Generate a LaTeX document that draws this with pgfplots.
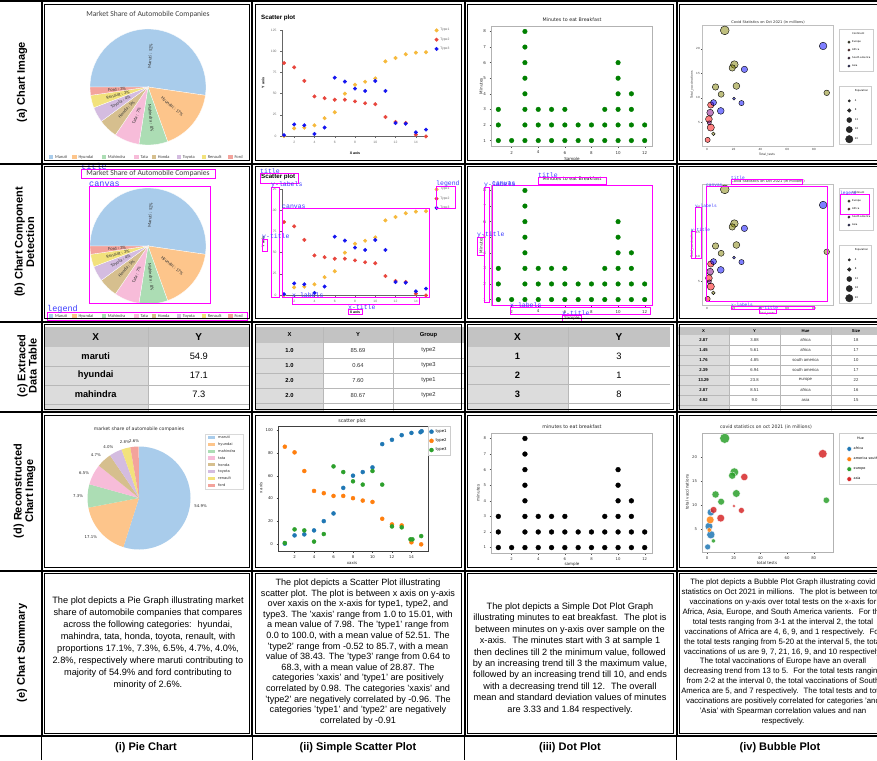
\documentclass[border=0pt]{standalone}
\usepackage{pgfplots}
\pgfplotsset{compat=1.18}
\usepackage{fontspec}
\setmainfont{Liberation Sans}
\newfontfamily\dejavu{DejaVu Sans}
\newfontfamily\carlito{Carlito}
\newfontfamily\mono{Liberation Mono}
\newcommand\fs[1]{\fontsize{#1}{#1}\selectfont}
\newcommand\fsl[2]{\fontsize{#1}{#2}\selectfont}

\definecolor{cMaruti}{HTML}{A9CCEB}
\definecolor{cHyundai}{HTML}{FDC58B}
\definecolor{cMahindra}{HTML}{ACDDB4}
\definecolor{cTata}{HTML}{F7BCD9}
\definecolor{cHonda}{HTML}{D6BF8E}
\definecolor{cToyota}{HTML}{D4BCE0}
\definecolor{cRenault}{HTML}{F2E27C}
\definecolor{cFord}{HTML}{F3A39C}
\definecolor{aT1}{HTML}{F6B93B}
\definecolor{aT2}{HTML}{E8453C}
\definecolor{aT3}{HTML}{1414F0}
\definecolor{dgreen}{HTML}{008000}
\definecolor{mBlue}{HTML}{1F77B4}
\definecolor{mOrange}{HTML}{FF7F0E}
\definecolor{mGreen}{HTML}{2CA02C}
\definecolor{mRed}{HTML}{D62728}
\definecolor{bEu}{HTML}{808000}
\definecolor{bAf}{HTML}{FF0000}
\definecolor{bSa}{HTML}{800080}
\definecolor{bAs}{HTML}{0000FF}
\definecolor{thead}{HTML}{C3C3C3}
\definecolor{tcol}{HTML}{DCDCDC}
\definecolor{tline}{HTML}{B8B8B8}
\definecolor{mag}{HTML}{FF00FF}
\definecolor{lblue}{HTML}{3C3CFF}

\pgfplotsset{bub/.style n args={2}{scatter, only marks, mark=*, forget plot,
  scatter/use mapped color={#1},
  visualization depends on={#2*\thisrow{s} \as \msz},
  scatter/@pre marker code/.append style={/tikz/mark size=\msz}}}

% ---------- pie (a) ----------
\newcommand\pieA[1]{%
\begin{scope}[x=1pt,y=-1pt]
 \node[font=\carlito\fs{7.6}, text=black!75] at (148,{14+#1}) {Market Share of Automobile Companies};
 \foreach \pv/\pc [remember=\pn as \ps (initially 0)] in
  {52.3/cMaruti, 17.2/cHyundai, 8.0/cMahindra, 7.0/cTata, 5.4/cHonda, 4.3/cToyota, 3.5/cRenault, 2.3/cFord}{
   \pgfmathsetmacro\pn{\ps+\pv}
   \pgfmathsetmacro\pa{180-\ps*3.6}
   \pgfmathsetmacro\pb{180-\pn*3.6}
   \fill[\pc, draw=white, line width=0.3pt] (148,{87+#1}) -- ++(\pa:58pt) arc[start angle=\pa, end angle=\pb, radius=58pt] -- cycle;
 }
 \foreach \pv/\pl [remember=\pn as \ps (initially 0)] in
  {52.3/Maruti : 52\%, 17.2/Hyundai : 17\%, 8.0/Mahindra : 8\%, 7.0/Tata : 7\%, 5.4/Honda : 5\%, 4.3/Toyota : 4\%, 3.5/Renault : 3\%, 2.3/Ford : 3\%}{
   \pgfmathsetmacro\pn{\ps+\pv}
   \pgfmathsetmacro\pm{180-(\ps+\pv/2)*3.6}
   \pgfmathsetmacro\pr{cos(\pm)<0 ? \pm+180 : \pm}
   \path (148,{87+#1}) ++(\pm:31pt) node[font=\carlito\fs{4.6}, text=black!80, rotate=\pr, inner sep=0pt] {\pl};
 }
 \foreach \px/\pc/\pl in {51/cMaruti/Maruti, 74.5/cHyundai/Hyundai, 103.8/cMahindra/Mahindra, 136.5/cTata/Tata, 153.8/cHonda/Honda, 178.8/cToyota/Toyota, 203.8/cRenault/Renault, 230.5/cFord/Ford}{
   \fill[\pc] ({\px-2.2},{155.2+#1}) rectangle ({\px+2.2},{158.8+#1});
   \node[anchor=west, font=\carlito\fs{4.4}, text=black!75, inner sep=0pt] at ({\px+3.8},{157+#1}) {\pl};
 }
\end{scope}}

% ---------- scatter (a) ----------
\newcommand\scatA[1]{%
\begin{scope}[x=1pt,y=-1pt]
 \node[anchor=west, font=\bfseries\fs{6.2}, inner sep=0pt] at (261,{18+#1}) {Scatter plot};
 \node[font=\bfseries\fs{3.6}] at (355,{153+#1}) {X axis};
 \node[font=\bfseries\fs{3.6}, rotate=90] at (263,{83+#1}) {Y axis};
\end{scope}
\begin{axis}[at={(282pt,{-136pt-#1pt})}, anchor=south west, scale only axis,
  width=146pt, height=106pt, xmin=0.8, xmax=15.2, ymin=0, ymax=125,
  axis x line*=bottom, axis y line*=left,
  axis line style={black!60, line width=0.5pt, -},
  xtick={2,4,...,14}, ytick={0,25,...,125},
  tick align=outside, major tick length=2pt,
  tick style={black!60, line width=0.4pt},
  ticklabel style={font=\fs{3.3}, text=black!55},
  /pgf/number format/assume math mode=true,
  clip=false,
  legend style={at={(1.045,1.035)}, anchor=north west, draw=none, fill=none,
     font=\fs{3.3}, text=black!60, row sep=1.5pt, inner sep=0pt},
  legend cell align=left]
 \addplot[only marks, mark=*, mark size=1.8pt, color=aT1] coordinates {(1,0)(2,9)(3,9.8)(4,12.6)(5,21)(6,28)(7,49.9)(8,60.5)(9,64)(10,68)(11,88)(12,92)(13,96.4)(14,98.3)(15,98.8)};
 \addlegendentry{Type1}
 \addplot[only marks, mark=*, mark size=1.8pt, color=aT2] coordinates {(1,86)(2,81)(3,65)(4,46.7)(5,44.6)(6,42.8)(7,42.8)(8,40.8)(9,38.6)(10,37.5)(11,22.4)(12,16.5)(13,15.3)(14,1.6)(15,-0.5)};
 \addlegendentry{Type2}
 \addplot[only marks, mark=*, mark size=1.8pt, color=aT3] coordinates {(1,1)(2,13.6)(3,12.6)(4,2.4)(5,10)(6,68.8)(7,64.2)(8,55.9)(9,53.1)(10,64.9)(11,53.1)(12,15.3)(13,14.5)(14,4.3)(15,7.5)};
 \addlegendentry{Type3}
\end{axis}}

% ---------- dot plot (a) ----------
\newcommand\dotA[1]{%
\begin{scope}[x=1pt,y=-1pt]
 \node[font=\dejavu\fs{4.8}, text=black!85] at (572,{20+#1}) {Minutes to eat Breakfast};
 \node[font=\dejavu\fs{4.1}, text=black!85] at (572,{159+#1}) {Sample};
 \node[font=\dejavu\fs{4.1}, text=black!85, rotate=90] at (481,{86+#1}) {Minutes};
\end{scope}
\begin{axis}[at={(491pt,{-146pt-#1pt})}, anchor=south west, scale only axis,
  width=161pt, height=120pt, xmin=0.45,xmax=12.55,ymin=0.65,ymax=8.35,
  axis line style={black!30, line width=0.8pt},
  xtick={2,4,...,12}, ytick={1,...,8}, tick pos=left, tick align=outside,
  major tick length=1.5pt, tick style={black!70,line width=0.3pt},
  ticklabel style={font=\dejavu\fs{4}, text=black!80},
  /pgf/number format/assume math mode=true, clip=false]
 \addplot[only marks, mark=*, mark size=2.3pt, color=dgreen] coordinates {(1,1)(1,2)(1,3)(2,1)(3,1)(3,2)(3,3)(3,4)(3,5)(3,6)(3,7)(3,8)(4,1)(4,2)(4,3)(5,1)(5,2)(5,3)(6,1)(6,2)(6,3)(7,1)(7,2)(8,1)(8,2)(9,1)(9,2)(9,3)(10,1)(10,2)(10,3)(10,4)(10,5)(10,6)(11,1)(11,2)(11,3)(11,4)(12,1)(12,2)};
\end{axis}}

% ---------- bubble (a) ----------
\newcommand\bubA[1]{%
\begin{scope}[x=1pt,y=-1pt]
 \node[font=\dejavu\fs{3.6}, text=black!85] at (768,{22+#1}) {Covid Statistics on Oct 2021 (in millions)};
 \node[font=\dejavu\fs{3}, text=black!85] at (767,{155+#1}) {Total\_tests};
 \node[font=\dejavu\fs{3}, text=black!85, rotate=90] at (692,{85+#1}) {Total\_vaccinations};
\end{scope}
\begin{axis}[at={(702pt,{-146pt-#1pt})}, anchor=south west, scale only axis,
  width=131pt, height=121pt, xmin=-3.7,xmax=94.2,ymin=0.1,ymax=24.9,
  axis line style={black!25, line width=0.7pt},
  xtick={0,20,...,80}, ytick={5,10,15,20}, tick pos=left, tick align=outside,
  major tick length=1.2pt, tick style={black!70,line width=0.3pt},
  ticklabel style={font=\dejavu\fs{2.8}, text=black!80, inner sep=0.8pt},
  /pgf/number format/assume math mode=true, clip=false,
  legend style={at={(1.046,0.967)}, anchor=north west, draw=black!20, fill=white,
     font=\dejavu\fs{2.5}, row sep=0.6pt, inner sep=1.2pt},
  legend cell align=left]
 \addplot[bub={draw=none,fill=bEu,fill opacity=0.5}{0.2}] table[row sep=\\]{x y s\\ 13.29 23.8 22\\ 20.5 16.8 19\\ 18.9 16.1 16\\ 6.4 12.2 16\\ 22 12.4 17\\ 10.6 10.7 15\\ 89.5 11.0 14\\ 4.8 2.6 9\\};
 \addplot[bub={draw=none,fill=bAf,fill opacity=0.5}{0.2}] table[row sep=\\]{x y s\\ 2.87 3.88 18\\ 1.45 5.61 17\\ 2.87 8.51 16\\ 0.5 1.35 13\\};
 \addplot[bub={draw=none,fill=bSa,fill opacity=0.5}{0.2}] table[row sep=\\]{x y s\\ 1.76 4.85 10\\ 2.39 6.94 17\\};
 \addplot[bub={draw=none,fill=bAs,fill opacity=0.5}{0.2}] table[row sep=\\]{x y s\\ 86.8 20.6 19\\ 28 15.8 16\\ 4.92 9.0 15\\ 10.3 7.3 17\\ 20.2 9.8 7\\ 25.8 8.9 13\\};
 \addlegendimage{empty legend}\addlegendentry{Continent}
 \addlegendimage{only marks, mark=*, mark size=1.2pt, draw=none, fill=bEu, fill opacity=0.5}\addlegendentry{Europe}
 \addlegendimage{only marks, mark=*, mark size=1.2pt, draw=none, fill=bAf, fill opacity=0.5}\addlegendentry{Africa}
 \addlegendimage{only marks, mark=*, mark size=1.2pt, draw=none, fill=bSa, fill opacity=0.5}\addlegendentry{South america}
 \addlegendimage{only marks, mark=*, mark size=1.2pt, draw=none, fill=bAs, fill opacity=0.5}\addlegendentry{Asia}
\end{axis}
\begin{axis}[at={(702pt,{-146pt-#1pt})}, anchor=south west, scale only axis,
  width=131pt, height=121pt, xmin=0,xmax=1,ymin=0,ymax=1, hide axis,
  legend style={at={(1.046,0.496)}, anchor=north west, draw=black!20, fill=white,
     font=\dejavu\fs{2.5}, row sep=2.2pt, inner sep=1.5pt},
  legend cell align=left]
 \addlegendimage{empty legend}\addlegendentry{Population}
 \addlegendimage{only marks, mark=*, mark size=1.2pt, black!85}\addlegendentry{4}
 \addlegendimage{only marks, mark=*, mark size=1.8pt, black!85}\addlegendentry{8}
 \addlegendimage{only marks, mark=*, mark size=2.5pt, black!85}\addlegendentry{12}
 \addlegendimage{only marks, mark=*, mark size=3.1pt, black!85}\addlegendentry{16}
 \addlegendimage{only marks, mark=*, mark size=3.7pt, black!85}\addlegendentry{20}
\end{axis}}

\newcommand\magbox[6]{\draw[mag, line width=0.8pt] (#1,#2) rectangle (#3,#4);
 \node[anchor=south west, inner sep=0pt, font=\mono\fs{#6}, text=lblue] at (#1,{#2+1.2}) {#5};}

\begin{document}
\begin{tikzpicture}
\path[use as bounding box, fill=white] (0pt,0pt) rectangle (877pt,-760pt);

% ===== row (a) =====
\pieA{0}
\scatA{0}
\dotA{0}
\bubA{0}
% ===== row (b) =====
\pieA{159}
\scatA{159}
\dotA{159}
\bubA{159}
\begin{scope}[x=1pt,y=-1pt]
 \magbox{81}{169}{215}{178}{title}{8.5}
 \magbox{89}{186}{210}{303}{canvas}{8.5}
 \magbox{47}{312}{247}{320}{legend}{8.5}
 \magbox{260}{173}{298}{183}{title}{6.5}
 \magbox{271}{187}{279}{297}{y-labels}{6.5}
 \magbox{282}{208}{429}{297}{canvas}{6.5}
 \magbox{262}{239}{267}{251}{y-title}{6.5}
 \magbox{292}{297}{419}{304}{x-labels}{6.5}
 \magbox{348}{309}{362}{314}{x-title}{6.5}
 \magbox{436}{186}{455}{208}{legend}{6.5}
 \magbox{538}{177}{606}{184}{title}{6.5}
 \magbox{492}{185}{652}{305}{canvas}{6.5}
 \magbox{484}{187}{489}{302}{y-labels}{6.5}
 \magbox{477}{237}{484}{255}{y-title}{6.5}
 \magbox{510}{307}{650}{314}{x-labels}{6.5}
 \magbox{562}{315}{581}{321}{x-title}{6.5}
 \magbox{731}{179}{802}{184}{title}{4.5}
 \magbox{706}{186}{827}{301}{canvas}{4.5}
 \magbox{695}{207}{701}{258}{y-labels}{4.5}
 \magbox{691}{231}{695}{258}{y-title}{4.5}
 \magbox{840}{194}{869}{214}{legend}{4.5}
 \magbox{731}{306}{814}{309}{x-labels}{4.5}
 \magbox{759}{309}{776}{313}{x-title}{4.5}
\end{scope}

% ===== row (c) tables =====
\begin{scope}[x=1pt,y=-1pt]
 \fill[thead] (43.5,327) rectangle (249.5,347);
 \fill[tcol] (43.5,347) rectangle (148,411);
 \foreach \ty in {366,385,404} \draw[tline,line width=0.5pt] (43.5,\ty) -- (249.5,\ty);
 \draw[tline,line width=0.5pt] (148,327) -- (148,411);
 \node[font=\bfseries\fs{10}] at (95.7,337.5) {X};
 \node[font=\bfseries\fs{10}] at (198.8,337.5) {Y};
 \foreach \ty/\ta/\tb in {356.5/maruti/54.9, 375.5/hyundai/17.1, 394.5/mahindra/7.3}{
   \node[font=\bfseries\fs{9.3}] at (95.7,\ty) {\ta};
   \node[font=\fs{9.3}] at (198.8,\ty) {\tb};}
 \fill[thead] (256,327) rectangle (464,343);
 \fill[tcol] (256,343) rectangle (323,411);
 \foreach \ty in {358,373,388,403} \draw[tline,line width=0.4pt] (256,\ty) -- (464,\ty);
 \draw[tline,line width=0.4pt] (323,327) -- (323,411);
 \draw[tline,line width=0.4pt] (393,327) -- (393,411);
 \node[font=\bfseries\fs{5.8}] at (289.5,335) {X};
 \node[font=\bfseries\fs{5.8}] at (358,335) {Y};
 \node[font=\bfseries\fs{5.8}] at (428.5,335) {Group};
 \foreach \ty/\ta/\tb/\tc in {350.5/1.0/85.69/type2, 365.5/1.0/0.64/type3, 380.5/2.0/7.60/type1, 395.5/2.0/80.67/type2}{
   \node[font=\bfseries\fs{5.8}] at (289.5,\ty) {\ta};
   \node[font=\fs{5.8}, text=black!80] at (358,\ty) {\tb};
   \node[font=\fs{5.8}, text=black!80] at (428.5,\ty) {\tc};}
 \fill[thead] (467,327) rectangle (670,347);
 \fill[tcol] (467,347) rectangle (568,411);
 \foreach \ty in {366,384.5,403} \draw[tline,line width=0.5pt] (467,\ty) -- (670,\ty);
 \draw[tline,line width=0.5pt] (568,327) -- (568,411);
 \node[font=\bfseries\fs{10}] at (517.5,337.5) {X};
 \node[font=\bfseries\fs{10}] at (619,337.5) {Y};
 \foreach \ty/\ta/\tb in {356.5/1/3, 375.5/2/1, 394/3/8}{
   \node[font=\bfseries\fs{9.3}] at (517.5,\ty) {\ta};
   \node[font=\fs{9.3}] at (619,\ty) {\tb};}
 \fill[thead] (678,327) rectangle (880,335);
 \fill[tcol] (678,335) rectangle (729,411);
 \foreach \ty in {345,355,365,375,385,395,405} \draw[tline,line width=0.3pt] (678,\ty) -- (880,\ty);
 \foreach \tx in {729,780,831} \draw[tline,line width=0.3pt] (\tx,327) -- (\tx,411);
 \node[font=\bfseries\fs{4.2}] at (703.5,331) {X};
 \node[font=\bfseries\fs{4.2}] at (754.5,331) {Y};
 \node[font=\bfseries\fs{4.2}] at (805.5,331) {Hue};
 \node[font=\bfseries\fs{4.2}] at (856,331) {Size};
 \foreach \ty/\ta/\tb/\tc/\td in {340/2.87/3.88/africa/18, 350/1.45/5.61/africa/17, 360/1.76/4.85/south america/10, 370/2.39/6.94/south america/17, 380/13.29/23.8/europe/22, 390/2.87/8.51/africa/16, 400/4.92/9.0/asia/15}{
   \node[font=\bfseries\fs{4.2}] at (703.5,\ty) {\ta};
   \node[font=\fs{4.2}, text=black!80] at (754.5,\ty) {\tb};
   \node[font=\fs{4.2}, text=black!80] at (805.5,\ty) {\tc};
   \node[font=\fs{4.2}, text=black!80] at (856,\ty) {\td};}
\end{scope}

% ===== row (d) =====
\begin{scope}[x=1pt,y=-1pt]
 \node[font=\dejavu\fs{4.6}, text=black!85] at (139,429) {market share of automobile companies};
 \foreach \pv/\pc [remember=\pn as \ps (initially 0)] in
  {54.9/cMaruti, 17.1/cHyundai, 7.3/cMahindra, 6.5/cTata, 4.7/cHonda, 4.0/cToyota, 2.8/cRenault, 2.6/cFord}{
   \pgfmathsetmacro\pn{\ps+\pv}
   \pgfmathsetmacro\pa{90-\ps*3.6}
   \pgfmathsetmacro\pb{90-\pn*3.6}
   \fill[\pc] (139,498) -- ++(\pa:51.5pt) arc[start angle=\pa, end angle=\pb, radius=51.5pt] -- cycle;
 }
 \foreach \pv/\pl/\pk [remember=\pn as \ps (initially 0)] in
  {54.9/54.9\%/west, 17.1/17.1\%/north east, 7.3/7.3\%/east, 6.5/6.5\%/east, 4.7/4.7\%/south east, 4.0/4.0\%/south east, 2.8/2.8\%/south, 2.6/2.6\%/south}{
   \pgfmathsetmacro\pn{\ps+\pv}
   \pgfmathsetmacro\pm{90-(\ps+\pv/2)*3.6}
   \path (139,498) ++(\pm:55.5pt) node[font=\dejavu\fs{3.9}, text=black!85, anchor=\pk, inner sep=0.3pt] {\pl};
 }
 \draw[black!15, line width=0.4pt, fill=white] (205,434) rectangle (243,489);
 \foreach \ty/\pc/\pl in {437.5/cMaruti/maruti, 444.3/cHyundai/hyundai, 451.1/cMahindra/mahindra, 457.9/cTata/tata, 464.7/cHonda/honda, 471.5/cToyota/toyota, 478.3/cRenault/renault, 485.1/cFord/ford}{
   \fill[\pc] (208,{\ty-1.6}) rectangle (214.5,{\ty+1.6});
   \node[anchor=west, font=\dejavu\fs{3.6}, text=black!85, inner sep=0pt] at (218,\ty) {\pl};
 }
 \node[font=\dejavu\fs{4.8}, text=black!85] at (352,421.5) {scatter plot};
 \node[font=\dejavu\fs{4}, text=black!85] at (352,563) {xaxis};
 \node[font=\dejavu\fs{4}, text=black!85, rotate=90] at (261,488) {x axis};
 \node[font=\dejavu\fs{4.8}, text=black!85] at (572,427) {minutes to eat breakfast};
 \node[font=\dejavu\fs{4.1}, text=black!85] at (572,564) {sample};
 \node[font=\dejavu\fs{4.1}, text=black!85, rotate=90] at (478,493) {minutes};
 \node[font=\dejavu\fs{4.6}, text=black!85] at (766,427) {covid statistics on oct 2021 (in millions)};
 \node[font=\dejavu\fs{4}, text=black!85] at (767,563) {total tests};
 \node[font=\dejavu\fs{4}, text=black!85, rotate=90] at (687,492) {total vaccinations};
\end{scope}

\begin{axis}[at={(278pt,-551pt)}, anchor=south west, scale only axis,
  width=150pt, height=125pt, xmin=0.3, xmax=15.7, ymin=-6.5, ymax=104,
  axis line style={black!75, line width=0.5pt},
  xtick={2,4,...,14}, ytick={0,20,...,100}, tick pos=left, tick align=outside,
  major tick length=1.5pt, tick style={black!75,line width=0.3pt},
  ticklabel style={font=\dejavu\fs{3.9}, text=black!85},
  /pgf/number format/assume math mode=true, clip=false,
  legend style={at={(1.0,1.0)}, anchor=north west, draw=black!20, fill=white,
     font=\dejavu\fs{3.9}, row sep=0.8pt, inner sep=1.3pt},
  legend cell align=left]
 \addplot[only marks, mark=*, mark size=2pt, color=mBlue] coordinates {(1,0)(2,7.3)(3,8.2)(4,11.7)(5,19.9)(6,26.7)(7,49.3)(8,60.1)(9,63.3)(10,67.4)(11,88)(12,91.8)(13,95.9)(14,97.9)(14.93,98.5)(15.05,99.4)};
 \addlegendentry{type1}
 \addplot[only marks, mark=*, mark size=2pt, color=mOrange] coordinates {(1,85.7)(2,80.7)(3,64.2)(4,46.6)(5,44.6)(6,42.2)(7,42.2)(8,40.2)(9,38.1)(10,36.9)(11,22)(12,17)(13,16.1)(14,1.2)(15,-0.6)};
 \addlegendentry{type2}
 \addplot[only marks, mark=*, mark size=2pt, color=mGreen] coordinates {(1,0.6)(2,12.6)(3,11.7)(4,1.8)(5,8.5)(6,68.3)(7,63.3)(8,55.1)(9,52.2)(10,64.2)(11,52.2)(12,15.2)(13,14.4)(13.9,3.8)(14.1,3.8)(15,6.7)};
 \addlegendentry{type3}
\end{axis}

\begin{axis}[at={(491pt,-553pt)}, anchor=south west, scale only axis,
  width=161pt, height=120pt, xmin=0.45,xmax=12.55,ymin=0.65,ymax=8.35,
  axis line style={black!30, line width=0.8pt},
  xtick={2,4,...,12}, ytick={1,...,8}, tick pos=left, tick align=outside,
  major tick length=1.5pt, tick style={black!70,line width=0.3pt},
  ticklabel style={font=\dejavu\fs{3.8}, text=black!80},
  /pgf/number format/assume math mode=true, clip=false]
 \addplot[only marks, mark=*, mark size=2.4pt, color=black] coordinates {(1,1)(1,2)(1,3)(2,1)(3,1)(3,2)(3,3)(3,4)(3,5)(3,6)(3,7)(3,8)(4,1)(4,2)(4,3)(5,1)(5,2)(5,3)(6,1)(6,2)(6,3)(7,1)(7,2)(8,1)(8,2)(9,1)(9,2)(9,3)(10,1)(10,2)(10,3)(10,4)(10,5)(10,6)(11,1)(11,2)(11,3)(11,4)(12,1)(12,2)};
\end{axis}

\begin{axis}[at={(702pt,-552pt)}, anchor=south west, scale only axis,
  width=131pt, height=119pt, xmin=-3.75,xmax=94.5,ymin=0.3,ymax=24.9,
  axis line style={black!30, line width=0.8pt},
  xtick={0,20,...,80}, ytick={5,10,15,20}, tick pos=left, tick align=outside,
  major tick length=1.5pt, tick style={black!70,line width=0.3pt},
  ticklabel style={font=\dejavu\fs{3.8}, text=black!80},
  /pgf/number format/assume math mode=true, clip=false,
  legend style={at={(1.046,1.0)}, anchor=north west, draw=black!20, fill=white,
     font=\dejavu\fs{3.4}, row sep=2.2pt, inner sep=1.5pt},
  legend cell align=left]
 \addplot[bub={draw=white,line width=0.3pt,fill=mGreen,fill opacity=0.85}{0.227}] table[row sep=\\]{x y s\\ 13.29 23.8 22\\ 20.5 16.8 19\\ 18.9 16.1 16\\ 6.4 12.2 16\\ 22 12.4 17\\ 10.6 10.7 15\\ 89.5 11.0 14\\ 4.8 2.6 9\\};
 \addplot[bub={draw=white,line width=0.3pt,fill=mBlue,fill opacity=0.85}{0.227}] table[row sep=\\]{x y s\\ 2.87 3.88 18\\ 1.45 5.61 17\\ 2.87 8.51 16\\ 0.5 1.35 13\\};
 \addplot[bub={draw=white,line width=0.3pt,fill=mOrange,fill opacity=0.85}{0.227}] table[row sep=\\]{x y s\\ 1.76 4.85 10\\ 2.39 6.94 17\\};
 \addplot[bub={draw=white,line width=0.3pt,fill=mRed,fill opacity=0.85}{0.227}] table[row sep=\\]{x y s\\ 86.8 20.6 19\\ 28 15.8 16\\ 4.92 9.0 15\\ 10.3 7.3 17\\ 20.2 9.8 7\\ 25.8 8.9 13\\};
 \addlegendimage{empty legend}\addlegendentry{\quad Hue}
 \addlegendimage{only marks, mark=*, mark size=2.4pt, draw=white, fill=mBlue}\addlegendentry{africa}
 \addlegendimage{only marks, mark=*, mark size=2.4pt, draw=white, fill=mOrange}\addlegendentry{america south}
 \addlegendimage{only marks, mark=*, mark size=2.4pt, draw=white, fill=mGreen}\addlegendentry{europe}
 \addlegendimage{only marks, mark=*, mark size=2.4pt, draw=white, fill=mRed}\addlegendentry{asia}
\end{axis}

% ===== row (e) summaries, labels, grid =====
\begin{scope}[x=1pt,y=-1pt]
 \node[align=center, font=\fsl{9.2}{12}] at (148,643) {The plot depicts a Pie Graph illustrating market\\ share of automobile companies that compares\\ across the following categories:~ hyundai,\\ mahindra, tata, honda, toyota, renault, with\\ proportions 17.1\%, 7.3\%, 6.5\%, 4.7\%, 4.0\%,\\ 2.8\%, respectively where maruti contributing to\\ majority of 54.9\% and ford contributing to\\ minority of 2.6\%.};
 \node[align=center, font=\fsl{9.1}{10.6}] at (358,652) {The plot depicts a Scatter Plot illustrating\\ scatter plot. The plot is between x axis on y-axis\\ over xaxis on the x-axis for type1, type2, and\\ type3. The 'xaxis' range from 1.0 to 15.01, with\\ a mean value of 7.98. The 'type1' range from\\ 0.0 to 100.0, with a mean value of 52.51. The\\ 'type2' range from -0.52 to 85.7, with a mean\\ value of 38.43. The 'type3' range from 0.64 to\\ 68.3, with a mean value of 28.87. The\\ categories 'xaxis' and 'type1' are positively\\ correlated by 0.98. The categories 'xaxis' and\\ 'type2' are negatively correlated by -0.96. The\\ categories 'type1' and 'type2' are negatively\\ correlated by -0.91};
 \node[align=center, font=\fsl{9.2}{11.4}] at (570,658.5) {The plot depicts a Simple Dot Plot Graph\\ illustrating minutes to eat breakfast.~ The plot is\\ between minutes on y-axis over sample on the\\ x-axis.~ The minutes start with 3 at sample 1\\ then declines till 2 the minimum value, followed\\ by an increasing trend till 3 the maximum value,\\ followed by an increasing trend till 10, and ends\\ with a decreasing trend till 12.~ The overall\\ mean and standard deviation values of minutes\\ are 3.33 and 1.84 respectively.};
 \node[align=center, font=\fsl{7.8}{9.9}] at (783,652) {The plot depicts a Bubble Plot Graph illustrating covid\\ statistics on Oct 2021 in millions.~ The plot is between total\\ vaccinations on y-axis over total tests on the x-axis for\\ Africa, Asia, Europe, and South America varients.~ For the\\ total tests ranging from 3-1 at the interval 2, the total\\ vaccinations of Africa are 4, 6, 9, and 1 respectively.~ For\\ the total tests ranging from 5-20 at the interval 5, the total\\ vaccinations of us are 9, 7, 21, 16, 9, and 10 respectively.\\ The total vaccinations of Europe have an overall\\ decreasing trend from 13 to 5.~ For the total tests ranging\\ from 2-2 at the interval 0, the total vaccinations of South\\ America are 5, and 7 respectively.~ The total tests and total\\ vaccinations are positively correlated for categories 'and\\ 'Asia' with Spearman correlation values and nan\\ respectively.};

 \node[rotate=90, font=\bfseries\fs{11}] at (22,82) {(a) Chart Image};
 \node[rotate=90, align=center, font=\bfseries\fsl{11}{11.5}] at (24.5,242) {(b) Chart Component\\Detection};
 \node[rotate=90, align=center, font=\bfseries\fsl{11}{10}] at (27,366) {(c) Extraced\\Data Table};
 \node[rotate=90, align=center, font=\bfseries\fsl{11}{11.5}] at (24.5,491) {(d) Reconstructed\\Chart Image};
 \node[rotate=90, font=\bfseries\fs{11}] at (22,653) {(e) Chart Summary};
 \node[font=\bfseries\fs{11}] at (146,748) {(i) Pie Chart};
 \node[font=\bfseries\fs{11}] at (358,748) {(ii) Simple Scatter Plot};
 \node[font=\bfseries\fs{11}] at (570,748) {(iii) Dot Plot};
 \node[font=\bfseries\fs{11}] at (780,748) {(iv) Bubble Plot};

 \foreach \gy in {1,163.5,321.5,412,570.5,736} \draw[line width=2pt] (0,\gy) -- (877,\gy);
 \foreach \gx in {41.5,252,464.5,676.5} {\draw[line width=2pt] (\gx,0) -- (\gx,736); \draw[line width=1pt] (\gx,736) -- (\gx,760);}
 \foreach \ya/\yb in {1/163.5,163.5/321.5,321.5/412,412/570.5,570.5/736}{
  \foreach \xa/\xb in {41.5/252,252/464.5,464.5/676.5}
   \draw[line width=0.7pt] ({\xa+2.9},{\ya+2.9}) rectangle ({\xb-2.9},{\yb-2.9});
  \draw[line width=0.7pt] (880,{\ya+2.9}) -- (679.4,{\ya+2.9}) -- (679.4,{\yb-2.9}) -- (880,{\yb-2.9});
 }
\end{scope}
\end{tikzpicture}
\end{document}
